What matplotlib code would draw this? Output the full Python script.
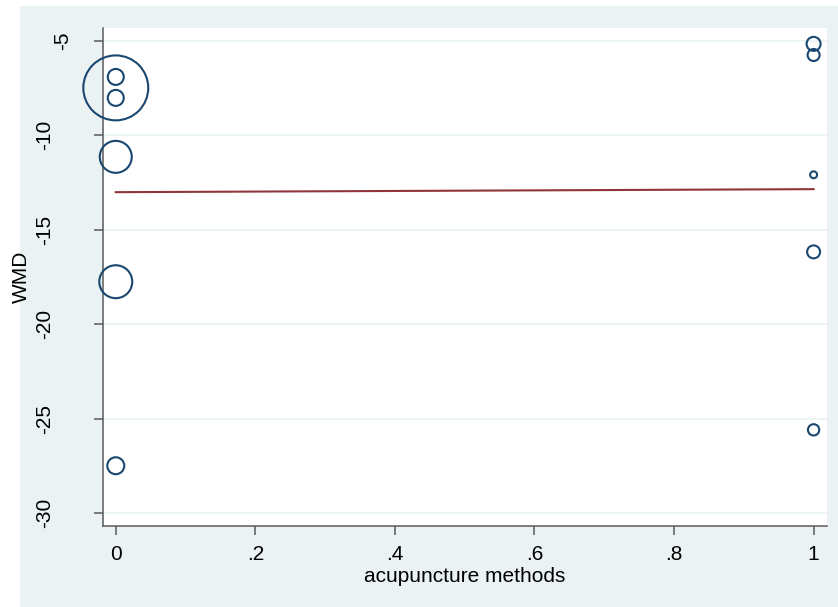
import numpy as np
import matplotlib
matplotlib.use("Agg")
import matplotlib.pyplot as plt
from matplotlib.patches import Rectangle
from matplotlib.transforms import ScaledTranslation

plt.rcParams['font.family'] = ['Liberation Sans', 'DejaVu Sans']

# study-level data: moderator (acupuncture methods), effect size (WMD), weight
method = [0, 0, 0, 0, 0, 0, 1, 1, 1, 1, 1]
wmd = [-7.50, -6.92, -8.03, -11.15, -17.76, -27.50,
       -5.17, -5.76, -12.10, -16.18, -25.60]
weight = [1056, 64, 64, 256, 272, 72, 49, 36, 12, 42, 32]

# fitted meta-regression line
fit_x = [0, 1]
fit_y = [-13.02, -12.86]

xticks = [0, 0.2, 0.4, 0.6, 0.8, 1]
xticklabels = ['0', '.2', '.4', '.6', '.8', '1']
yticks = [-5, -10, -15, -20, -25, -30]
yticklabels = ['-5', '-10', '-15', '-20', '-25', '-30']

W, H = 838, 607
bg = '#eaf2f3'
navy = '#1a476f'
maroon = '#90353b'
axcol = '#5a5a5a'

fig = plt.figure(figsize=(W / 100, H / 100), dpi=100, facecolor='white')
# outer graph region
fig.patches.append(Rectangle((20 / W, 0), 1 - 20 / W, 1 - 6 / H,
                             transform=fig.transFigure, facecolor=bg,
                             edgecolor='none', zorder=-10))

ax = fig.add_axes([103 / W, 1 - 526 / H, 724 / W, 498 / H])
ax.set_facecolor('white')

for y in yticks:
    ax.axhline(y, color=bg, lw=1.2, zorder=1)

ax.plot(fit_x, fit_y, color=maroon, lw=1.5, zorder=2)
sizes = np.array(weight) * 2.07
ax.scatter(method, wmd, s=sizes, facecolors='none', edgecolors=navy,
           linewidths=1.5, zorder=3, clip_on=False)

ax.set_xlim(-0.0183, 1.0192)
ax.set_ylim(-30.69, -4.33)

ax.set_xticks(xticks)
ax.set_xticklabels(xticklabels)
ax.set_yticks(yticks)
ax.set_yticklabels(yticklabels, rotation=90, va='center')

ax.tick_params(axis='both', labelsize=15, length=6.5, width=1.1,
               color=axcol, labelcolor='black')
ax.tick_params(axis='x', pad=7)
ax.tick_params(axis='y', pad=29)

# the top label sits further right in the reference
lab0 = ax.get_yticklabels()[0]
lab0.set_transform(lab0.get_transform() +
                   ScaledTranslation(0.18, 0, fig.dpi_scale_trans))

for s in ['top', 'right']:
    ax.spines[s].set_visible(False)
for s in ['left', 'bottom']:
    ax.spines[s].set_color(axcol)
    ax.spines[s].set_linewidth(1.1)

ax.set_xlabel('acupuncture methods', fontsize=15, labelpad=2)
ax.set_ylabel('WMD', fontsize=15, va='center')
ax.yaxis.set_label_coords((21 - 103) / 724, 0.5)

fig.savefig('out.png', dpi=100, facecolor='white')
